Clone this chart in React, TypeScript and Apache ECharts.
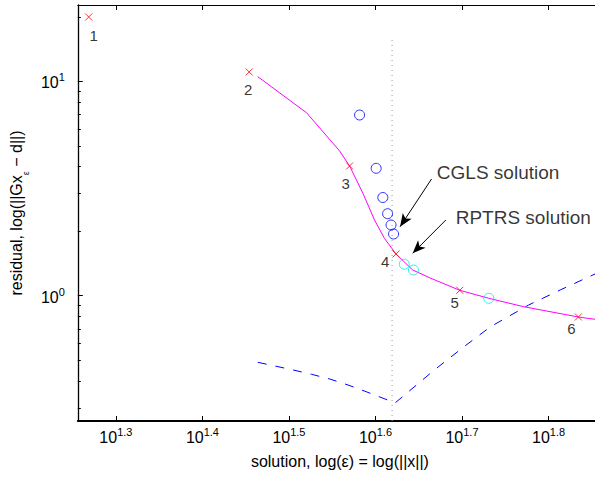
import React, { useEffect, useRef } from "react";
import * as echarts from "echarts";

// All values are log10 of the plotted quantity.
const xMin = 1.256;
const xMax = 1.8537;
const yMin = -0.5844;
const yMax = 1.3559;

const xTicks = [1.3, 1.4, 1.5, 1.6, 1.7, 1.8];
const yMajorTicks = [0, 1];
const yMinorMantissas = [2, 3, 4, 5, 6, 7, 8, 9];
const yMinorDecades = [-1, 0, 1];

// L-curve (magenta)
const lcurveX = [1.464, 1.5203, 1.5586, 1.5701, 1.5855, 1.5989, 1.6103, 1.6238, 1.643, 1.664, 1.6974, 1.731, 1.7713, 1.8345, 1.8537];
const lcurveY = [1.0215, 0.8535, 0.6749, 0.6049, 0.4776, 0.3531, 0.2677, 0.1945, 0.1199, 0.0812, 0.0252, -0.0121, -0.0513, -0.0993, -0.1101];

// dashed blue curve
const dashX = [1.464, 1.5051, 1.5261, 1.5471, 1.5683, 1.5893, 1.6161, 1.6226, 1.669, 1.7023, 1.733, 1.777, 1.8134, 1.8537];
const dashY = [-0.3106, -0.3466, -0.3666, -0.3885, -0.4165, -0.4478, -0.4897, -0.5005, -0.3433, -0.2379, -0.1446, -0.0434, 0.0266, 0.1012];

// numbered red crosses
const crossX = [1.2686, 1.454, 1.5701, 1.6238, 1.6974, 1.8345];
const crossY = [1.2999, 1.0434, 0.6049, 0.1945, 0.0252, -0.0993];
const crossLabels = ["1", "2", "3", "4", "5", "6"];
const crossLabelOffsets = [[5, 18], [-1, 18], [-4, 17], [-11, 7], [-5, 12], [-7, 12]];

// CGLS iterates (blue circles)
const cglsX = [1.5816, 1.6008, 1.6085, 1.614, 1.618, 1.6209];
const cglsY = [0.8428, 0.5942, 0.458, 0.3825, 0.3298, 0.2878];

// RPTRS iterates (cyan circles)
const rptrsX = [1.6333, 1.6439, 1.731];
const rptrsY = [0.1469, 0.1199, -0.0121];

// dotted vertical line
const optimumX = 1.6192;
const optimumTopY = 1.1973;

// annotations
const annotTexts = ["CGLS solution", "RPTRS solution"];
const annotX = [1.6709, 1.6927];
const annotY = [0.5746, 0.3647];
const arrowFromX = [1.6648, 1.6813];
const arrowFromY = [0.5443, 0.3531];
const arrowToX = [1.6284, 1.643];
const arrowToY = [0.3218, 0.1978];

const FONT = "'Liberation Sans', Arial, Helvetica, sans-serif";

const zip = (a: number[], b: number[]) => a.map((v, i) => [v, b[i]]);

export default function App() {
  const ref = useRef<HTMLDivElement>(null);
  useEffect(() => {
    if (!ref.current) return;
    const chart = echarts.init(ref.current, undefined, { renderer: "svg" });
    const yMinor: number[] = [];
    yMinorDecades.forEach((d) =>
      yMinorMantissas.forEach((m) => {
        const v = Math.log10(m) + d;
        if (v > yMin && v < yMax) yMinor.push(v);
      })
    );
    const supRich = {
      a: { fontSize: 16, fontFamily: FONT, color: "#000", lineHeight: 19, verticalAlign: "bottom" },
      b: { fontSize: 11, fontFamily: FONT, color: "#000", verticalAlign: "top" },
    };
    const option: any = {
      animation: false,
      backgroundColor: "#fff",
      grid: { left: 75, right: 0, top: 5, bottom: 56, containLabel: false },
      xAxis: [
        {
          type: "value",
          min: xMin,
          max: xMax,
          position: "bottom",
          axisLine: { show: true, onZero: false, lineStyle: { color: "#000", width: 2 } },
          axisTick: { show: true, inside: true, length: 5, customValues: xTicks, lineStyle: { color: "#000", width: 1 } },
          axisLabel: {
            show: true,
            customValues: xTicks,
            margin: 5,
            formatter: (v: number) => `{a|10}{b|${v}}`,
            rich: supRich,
          },
          splitLine: { show: false },
          name: "solution, log(ε) = log(||x||)",
          nameLocation: "middle",
          nameGap: 32,
          nameTextStyle: { fontSize: 16, fontFamily: FONT, color: "#000", padding: [0, 0, 0, 7] },
        },
        {
          type: "value",
          min: xMin,
          max: xMax,
          position: "top",
          axisLine: { show: true, onZero: false, lineStyle: { color: "#000", width: 1 } },
          axisTick: { show: true, inside: true, length: 5, customValues: xTicks, lineStyle: { color: "#000", width: 1 } },
          axisLabel: { show: false },
          splitLine: { show: false },
        },
      ],
      yAxis: [
        {
          type: "value",
          min: yMin,
          max: yMax,
          position: "left",
          axisLine: { show: true, onZero: false, lineStyle: { color: "#000", width: 1.3 } },
          axisTick: { show: true, inside: true, length: 5, customValues: yMajorTicks, lineStyle: { color: "#000", width: 1 } },
          axisLabel: {
            show: true,
            customValues: yMajorTicks,
            margin: 13,
            formatter: (v: number) => `{a|10}{b|${v}}`,
            rich: supRich,
          },
          splitLine: { show: false },
          name: "{n|residual, log(||Gx}{s|ε}{n| − d||)}",
          nameLocation: "middle",
          nameGap: 45,
          nameTextStyle: {
            rich: {
              n: { fontSize: 16, fontFamily: FONT, color: "#000", lineHeight: 22, verticalAlign: "top" },
              s: { fontSize: 9, fontFamily: FONT, color: "#000", verticalAlign: "bottom" },
            },
          },
        },
        {
          type: "value",
          min: yMin,
          max: yMax,
          position: "left",
          axisLine: { show: false },
          axisTick: { show: true, inside: true, length: 3, customValues: yMinor, lineStyle: { color: "#000", width: 1 } },
          axisLabel: { show: false },
          splitLine: { show: false },
        },
      ],
      series: [
        {
          type: "line",
          data: zip(dashX, dashY),
          showSymbol: false,
          symbol: "none",
          lineStyle: { color: "#0000ff", width: 1, type: [9, 9] },
          z: 2,
        },
        {
          type: "line",
          data: zip(lcurveX, lcurveY),
          showSymbol: false,
          symbol: "none",
          lineStyle: { color: "#ff00ff", width: 1 },
          z: 3,
        },
        {
          type: "line",
          data: [
            [optimumX, yMin],
            [optimumX, optimumTopY],
          ],
          showSymbol: false,
          symbol: "none",
          lineStyle: { color: "#999", width: 1, type: [1, 4] },
          z: 1,
        },
        {
          type: "scatter",
          data: crossX.map((x, i) => ({
            value: [x, crossY[i]],
            label: { offset: crossLabelOffsets[i] },
          })),
          symbol: "path://M0,0L10,10M10,0L0,10",
          symbolSize: 7,
          itemStyle: { color: "transparent", borderColor: "#ff0000", borderWidth: 1 },
          label: {
            show: true,
            position: "inside",
            formatter: (p: any) => crossLabels[p.dataIndex],
            fontSize: 15,
            fontFamily: FONT,
            color: "#000",
          },
          z: 5,
        },
        {
          type: "scatter",
          data: zip(cglsX, cglsY),
          symbol: "circle",
          symbolSize: 10,
          itemStyle: { color: "transparent", borderColor: "#0000ff", borderWidth: 1 },
          z: 6,
        },
        {
          type: "scatter",
          data: zip(rptrsX, rptrsY),
          symbol: "circle",
          symbolSize: 10,
          itemStyle: { color: "transparent", borderColor: "#00e8e8", borderWidth: 1 },
          z: 6,
        },
        {
          type: "scatter",
          data: zip(annotX, annotY),
          symbolSize: 0,
          label: {
            show: true,
            position: "right",
            distance: 0,
            formatter: (p: any) => annotTexts[p.dataIndex],
            fontSize: 19,
            fontFamily: FONT,
            color: "#000",
          },
          markLine: {
            silent: true,
            animation: false,
            symbol: ["none", "arrow"],
            symbolSize: [8, 13],
            label: { show: false },
            lineStyle: { color: "#000", width: 1, type: "solid" },
            data: arrowFromX.map((x, i) => [
              { coord: [x, arrowFromY[i]] },
              { coord: [arrowToX[i], arrowToY[i]] },
            ]),
          },
          z: 7,
        },
      ],
    };
    chart.setOption(option);
    return () => chart.dispose();
  }, []);
  return (
    <div
      ref={ref}
      style={{ position: "absolute", left: 0, top: 0, width: 595, height: 477, background: "#fff" }}
    />
  );
}
